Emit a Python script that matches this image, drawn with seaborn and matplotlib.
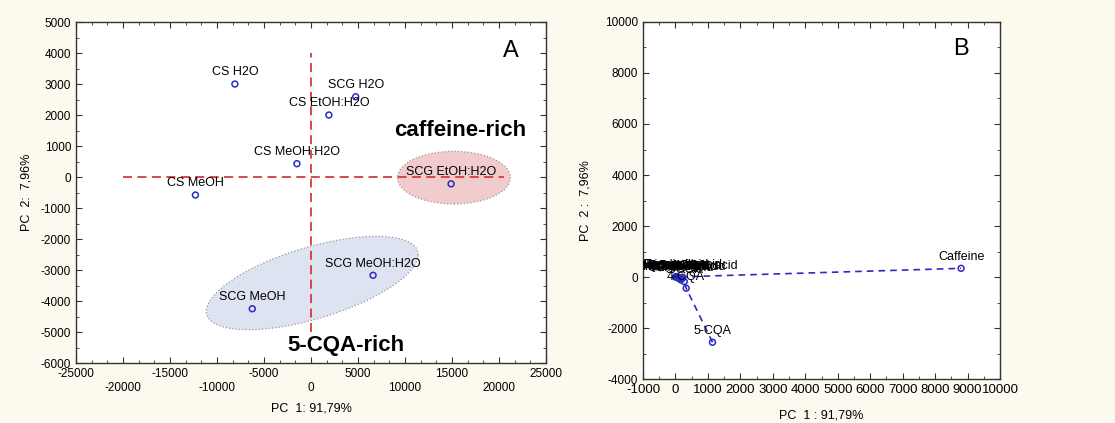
import numpy as np
import pandas as pd
import matplotlib.pyplot as plt
import seaborn as sns
from matplotlib.patches import Ellipse, Polygon
from matplotlib.ticker import MultipleLocator

# panel A: PCA scores of the extracts
sample_names = ["CS H2O", "SCG H2O", "CS EtOH:H2O", "CS MeOH:H2O", "CS MeOH",
                "SCG EtOH:H2O", "SCG MeOH:H2O", "SCG MeOH"]
pc1_scores = [-8100, 4750, 1900, -1500, -12300, 14900, 6600, -6250]
pc2_scores = [3000, 2590, 2000, 430, -580, -220, -3170, -4250]

# panel B: loadings of the compounds
compound_names = ["5-CQA", "4-CQA", "3-CQA", "Caffeic acid", "Trigonelline",
                  "3,4-diCQA", "3,5-diCQA", "4,5-diCQA", "Ferulic acid",
                  "Quinic acid", "Nicotinic acid", "Protocatechuic acid",
                  "Chlorogenic acid", "p-Coumaric acid", "Caffeine"]
pc1_loadings = [1140, 330, 270, 160, 0, 60, 110, 200, 20, 90, 140, 220, 100, 40, 8800]
pc2_loadings = [-2560, -440, -180, -110, 0, -20, -40, -70, 10, -30, -60, -10, -50, 20, 340]

x_ticks_a = [-25000, -20000, -15000, -10000, -5000, 0, 5000, 10000, 15000, 20000, 25000]
y_ticks_a = [-6000, -5000, -4000, -3000, -2000, -1000, 0, 1000, 2000, 3000, 4000, 5000]
x_ticks_b = [-1000, 0, 1000, 2000, 3000, 4000, 5000, 6000, 7000, 8000, 9000, 10000]
y_ticks_b = [-4000, -2000, 0, 2000, 4000, 6000, 8000, 10000]

sns.set_theme(style="ticks")
plt.rcParams["font.family"] = ["Liberation Sans", "DejaVu Sans"]
plt.rcParams["xtick.direction"] = "in"
plt.rcParams["ytick.direction"] = "in"

blue = "#2b2bc4"
red = "#d63a3a"

fig = plt.figure(figsize=(11.15, 4.23), dpi=100, facecolor="#fcf9ef")
ax1 = fig.add_axes([0.0682, 0.1418, 0.4215, 0.8061])
ax2 = fig.add_axes([0.5767, 0.104, 0.3202, 0.844])

for ax in (ax1, ax2):
    ax.set_facecolor("white")
    for sp in ax.spines.values():
        sp.set_color("#333333")
        sp.set_linewidth(1.0)
    ax.tick_params(which="both", top=True, right=True, colors="#333333",
                   labelsize=8.5, labelcolor="black")
    ax.tick_params(which="major", length=4, width=0.8)
    ax.tick_params(which="minor", length=2, width=0.6)

# ---- panel A ----
ax1.add_patch(Ellipse((15200, -20), 12000, 1700, facecolor="#f2cccc",
                      edgecolor="#999999", linestyle=":", linewidth=0.9, zorder=1))
t = np.linspace(0, 2 * np.pi, 200)
cx, cy = 130, -3420
ell = np.column_stack([cx + 11270 * np.cos(t), cy + 910 * np.cos(t) + 1200 * np.sin(t)])
ax1.add_patch(Polygon(ell, closed=True, facecolor="#dde3f0", edgecolor="#999999",
                      linestyle=":", linewidth=0.9, zorder=1))

ax1.plot([-20000, 20500], [0, 0], color=red, linestyle=(0, (5, 3)), linewidth=1.3, zorder=2)
ax1.plot([0, 0], [-5000, 4000], color=red, linestyle=(0, (5, 3)), linewidth=1.3, zorder=2)

df_a = pd.DataFrame({"PC1": pc1_scores, "PC2": pc2_scores, "name": sample_names})
sns.scatterplot(data=df_a, x="PC1", y="PC2", ax=ax1, marker="o", s=18,
                facecolor="none", edgecolor=blue, linewidth=1.1, zorder=3)
for name, x, y in zip(sample_names, pc1_scores, pc2_scores):
    ax1.annotate(name, (x, y), xytext=(0, 4), textcoords="offset points",
                 ha="center", va="bottom", fontsize=9, color="black")

ax1.text(15900, 1500, "caffeine-rich", fontsize=16, fontweight="bold",
         ha="center", va="center", color="black")
ax1.text(3700, -5420, "5-CQA-rich", fontsize=16, fontweight="bold",
         ha="center", va="center", color="black")
ax1.text(21300, 4050, "A", fontsize=17, ha="center", va="center", color="black")

ax1.set_xlim(-25000, 25000)
ax1.set_ylim(-6000, 5000)
ax1.set_xticks(x_ticks_a)
ax1.set_xticklabels([str(v) if i % 2 == 0 else "\n" + str(v) for i, v in enumerate(x_ticks_a)])
ax1.set_yticks(y_ticks_a)
ax1.set_yticklabels([str(v) for v in y_ticks_a])
ax1.xaxis.set_minor_locator(MultipleLocator(5000 / 3))
ax1.yaxis.set_minor_locator(MultipleLocator(500))
ax1.set_xlabel("PC  1: 91,79%", fontsize=9, labelpad=6, color="black")
ax1.set_ylabel("PC  2:  7,96%", fontsize=9, labelpad=6, color="black")

# ---- panel B ----
df_b = pd.DataFrame({"PC1": pc1_loadings, "PC2": pc2_loadings, "name": compound_names})
line_order = [0, 1, 2, 3, 4, 14]
sns.lineplot(data=df_b.iloc[line_order], x="PC1", y="PC2", ax=ax2, sort=False,
             color=blue, linestyle=(0, (4, 3)), linewidth=1.2, zorder=2)
sns.scatterplot(data=df_b, x="PC1", y="PC2", ax=ax2, marker="o", s=18,
                facecolor="none", edgecolor=blue, linewidth=1.1, zorder=3)
for name, x, y in zip(compound_names, pc1_loadings, pc2_loadings):
    ax2.annotate(name, (x, y), xytext=(0, 4), textcoords="offset points",
                 ha="center", va="bottom", fontsize=9, color="black",
                 annotation_clip=False, clip_on=True)

ax2.text(8800, 8950, "B", fontsize=17, ha="center", va="center", color="black")
ax2.set_xlim(-1000, 10000)
ax2.set_ylim(-4000, 10000)
ax2.set_xticks(x_ticks_b)
ax2.set_xticklabels([str(v) for v in x_ticks_b])
ax2.set_yticks(y_ticks_b)
ax2.set_yticklabels([str(v) for v in y_ticks_b])
ax2.tick_params(axis="x", labelsize=9.5)
ax2.xaxis.set_minor_locator(MultipleLocator(500))
ax2.yaxis.set_minor_locator(MultipleLocator(1000))
ax2.set_xlabel("PC  1 : 91,79%", fontsize=9, labelpad=10, color="black")
ax2.set_ylabel("PC  2 :  7,96%", fontsize=9, labelpad=10, color="black")

fig.savefig("out.png", dpi=100, facecolor=fig.get_facecolor())
